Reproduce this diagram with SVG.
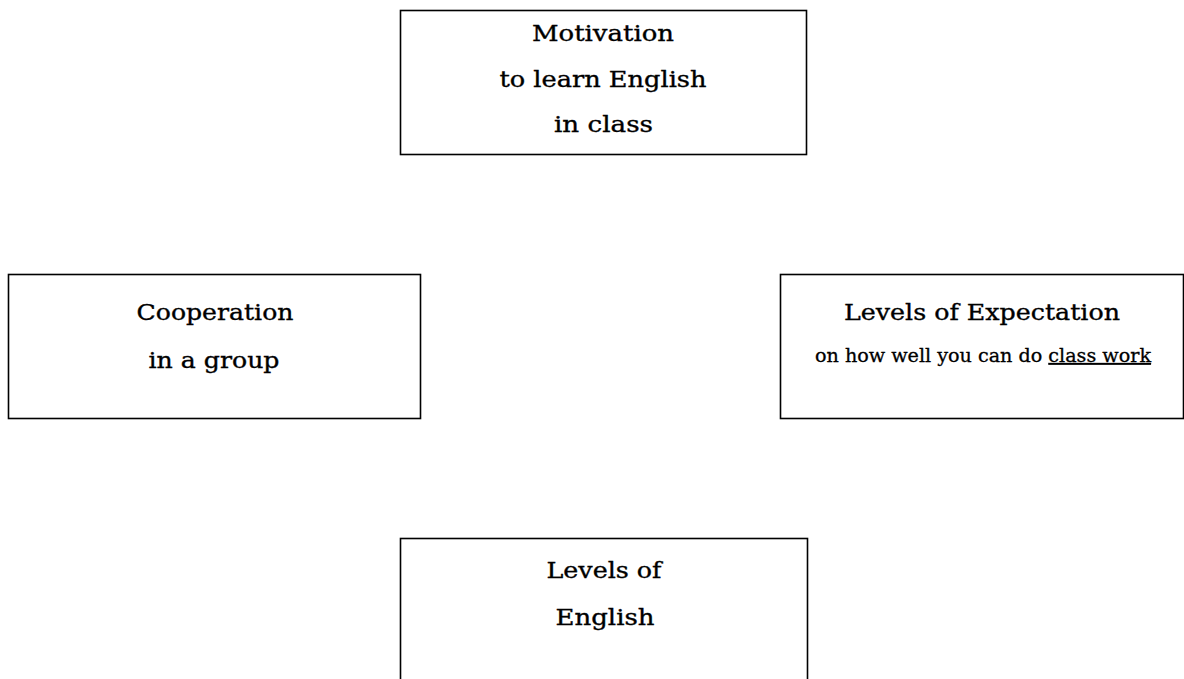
<svg xmlns="http://www.w3.org/2000/svg" width="1184" height="679" viewBox="0 0 1184 679">
  <style>
    .box { fill: #ffffff; stroke: #000000; stroke-width: 1.6; }
    .t { font-family: "DejaVu Serif", "Liberation Serif", serif; font-size: 22px; fill: #000000; stroke: #000000; stroke-width: 0.35; text-anchor: middle; }
    .s { font-family: "DejaVu Serif", "Liberation Serif", serif; font-size: 18px; fill: #000000; stroke: #000000; stroke-width: 0.3; text-anchor: middle; }
    .u { text-decoration: underline; }
  </style>
  <rect x="0" y="0" width="1184" height="679" fill="#ffffff"/>
  <g id="connectors"/>
  <g id="motivation">
    <rect class="box" x="400.5" y="10.5" width="406" height="144"/>
    <text class="t" x="603" y="41" textLength="142" lengthAdjust="spacingAndGlyphs">Motivation</text>
    <text class="t" x="603" y="87" textLength="207" lengthAdjust="spacingAndGlyphs">to learn English</text>
    <text class="t" x="603.5" y="132" textLength="99" lengthAdjust="spacingAndGlyphs">in class</text>
  </g>
  <g id="cooperation">
    <rect class="box" x="8.5" y="274.5" width="412" height="144"/>
    <text class="t" x="215" y="320" textLength="157" lengthAdjust="spacingAndGlyphs">Cooperation</text>
    <text class="t" x="214" y="368" textLength="131" lengthAdjust="spacingAndGlyphs">in a group</text>
  </g>
  <g id="expectation">
    <rect class="box" x="780.5" y="274.5" width="403" height="144"/>
    <text class="t" x="982" y="320" textLength="276" lengthAdjust="spacingAndGlyphs">Levels of Expectation</text>
    <text class="s" x="983" y="362" textLength="336" lengthAdjust="spacingAndGlyphs">on how well you can do <tspan class="u">class work</tspan></text>
  </g>
  <g id="english-level">
    <rect class="box" x="400.5" y="538.5" width="407" height="150"/>
    <text class="t" x="604" y="578" textLength="115" lengthAdjust="spacingAndGlyphs">Levels of</text>
    <text class="t" x="605" y="625" textLength="99" lengthAdjust="spacingAndGlyphs">English</text>
  </g>
</svg>
